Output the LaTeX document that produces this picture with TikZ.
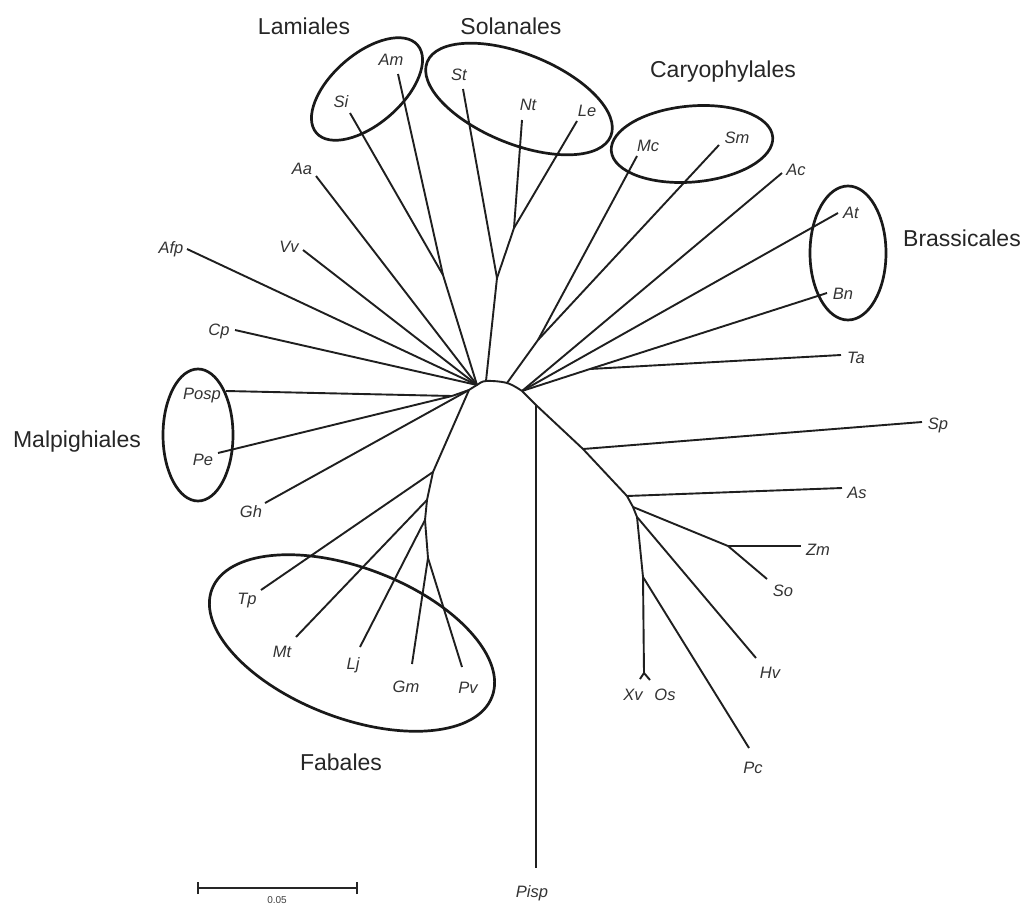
\documentclass[tikz,border=0pt]{standalone}
\usepackage{fontspec}
\setmainfont{Liberation Sans}
\begin{document}
\begin{tikzpicture}[x=1pt,y=-1pt,
  br/.style={line width=1.9pt, draw=black!88, line join=round},
  grp/.style={line width=2.7pt, draw=black!90},
  leaf/.style={font=\fontsize{16.5}{18}\selectfont\itshape, text=black!80, inner sep=0pt, anchor=base},
  clade/.style={font=\fontsize{23}{26}\selectfont, text=black!85, inner sep=0pt, anchor=base},
  sbar/.style={line width=2.2pt, draw=black!85}]
\useasboundingbox (0,0) rectangle (1026,905);
\fill[white] (0,0) rectangle (1026,905);

% backbone coordinates
\coordinate (cL) at (469,390);
\coordinate (cA) at (477,385);
\coordinate (cS) at (486,381);
\coordinate (cC) at (507,383);
\coordinate (cR) at (522,391);
\coordinate (nPisp) at (536,405);
\coordinate (nSp) at (583,449);
\coordinate (nAs) at (627,496);
\coordinate (nM) at (633,507);
\coordinate (nHv) at (637,517);
\coordinate (nPc) at (643,577);
\coordinate (nXO) at (644,673);
\coordinate (nTp) at (433,472);
\coordinate (nMt) at (427,500);
\coordinate (nLj) at (425,520);
\coordinate (nGP) at (428,558);
\coordinate (nPP) at (452,396);
\coordinate (nLam) at (443,275);
\coordinate (nSol) at (497,278);
\coordinate (nNL) at (514,228);
\coordinate (nCar) at (538,340);
\coordinate (nBT) at (590,369);
\coordinate (nZS) at (728,546);

% leaf ends
\coordinate (eAfp) at (187,249);
\coordinate (eCp) at (235,330);
\coordinate (eVv) at (303,250);
\coordinate (eAa) at (316,176);
\coordinate (eSi) at (350,113);
\coordinate (eAm) at (398,74);
\coordinate (eSt) at (463,89);
\coordinate (eNt) at (522,120);
\coordinate (eLe) at (577,121);
\coordinate (eMc) at (637,156);
\coordinate (eSm) at (719,145);
\coordinate (eAc) at (782,173);
\coordinate (eAt) at (838,213);
\coordinate (eBn) at (827,293);
\coordinate (eTa) at (841,355);
\coordinate (eSp) at (922,422);
\coordinate (eAs) at (842,488);
\coordinate (eZm) at (801,546);
\coordinate (eSo) at (767,579);
\coordinate (eHv) at (756,658);
\coordinate (ePc) at (749,748);
\coordinate (eXv) at (640,679);
\coordinate (eOs) at (650,680);
\coordinate (ePisp) at (536,868);
\coordinate (ePv) at (462,667);
\coordinate (eGm) at (412,664);
\coordinate (eLj) at (360,647);
\coordinate (eMt) at (296,637);
\coordinate (eTp) at (261,590);
\coordinate (eGh) at (265,503);
\coordinate (ePe) at (218,453);
\coordinate (ePosp) at (226,391);

% branches
\draw[br] plot[smooth, tension=0.6] coordinates {(cL) (cA) (cS) (cC) (cR)};
\draw[br] (cR) -- (nPisp) -- (nSp) -- (nAs) -- (nM) -- (nHv) -- (nPc) -- (nXO);
\draw[br] (cL) -- (nTp) -- (nMt) -- (nLj) -- (nGP);
\draw[br] (nTp) -- (eTp);
\draw[br] (nMt) -- (eMt);
\draw[br] (nLj) -- (eLj);
\draw[br] (nGP) -- (eGm);
\draw[br] (nGP) -- (ePv);
\draw[br] (cL) -- (eGh);
\draw[br] (cL) -- (nPP);
\draw[br] (nPP) -- (ePosp);
\draw[br] (nPP) -- (ePe);
\draw[br] (cA) -- (eCp);
\draw[br] (cA) -- (eAfp);
\draw[br] (cA) -- (eVv);
\draw[br] (cA) -- (eAa);
\draw[br] (cA) -- (nLam);
\draw[br] (nLam) -- (eSi);
\draw[br] (nLam) -- (eAm);
\draw[br] (cS) -- (nSol);
\draw[br] (nSol) -- (eSt);
\draw[br] (nSol) -- (nNL);
\draw[br] (nNL) -- (eNt);
\draw[br] (nNL) -- (eLe);
\draw[br] (cC) -- (nCar);
\draw[br] (nCar) -- (eMc);
\draw[br] (nCar) -- (eSm);
\draw[br] (cR) -- (eAc);
\draw[br] (cR) -- (eAt);
\draw[br] (cR) -- (nBT);
\draw[br] (nBT) -- (eBn);
\draw[br] (nBT) -- (eTa);
\draw[br] (nPisp) -- (ePisp);
\draw[br] (nSp) -- (eSp);
\draw[br] (nAs) -- (eAs);
\draw[br] (nM) -- (nZS);
\draw[br] (nZS) -- (eZm);
\draw[br] (nZS) -- (eSo);
\draw[br] (nHv) -- (eHv);
\draw[br] (nPc) -- (ePc);
\draw[br] (nXO) -- (eXv);
\draw[br] (nXO) -- (eOs);

% clade ellipses
\draw[grp, rotate around={41:(367,89)}] (367,89) ellipse [x radius=67, y radius=35];
\draw[grp, rotate around={-22:(519,99)}] (519,99) ellipse [x radius=99, y radius=45];
\draw[grp, rotate around={5:(692,144)}] (692,144) ellipse [x radius=81, y radius=38];
\draw[grp] (848,253) ellipse [x radius=38, y radius=67];
\draw[grp] (198,435) ellipse [x radius=35, y radius=66];
\draw[grp, rotate around={-21:(352,643)}] (352,643) ellipse [x radius=150, y radius=75];

% leaf labels
\node[leaf] (lAm) at (391,65) {Am};
\node[leaf] (lSi) at (341,107) {Si};
\node[leaf] (lSt) at (459,80) {St};
\node[leaf] (lNt) at (528,110) {Nt};
\node[leaf] (lLe) at (587,116) {Le};
\node[leaf] (lMc) at (648,151) {Mc};
\node[leaf] (lSm) at (737,143) {Sm};
\node[leaf] (lAc) at (796,175) {Ac};
\node[leaf] (lAt) at (851,218) {At};
\node[leaf] (lBn) at (843,299) {Bn};
\node[leaf] (lTa) at (856,363) {Ta};
\node[leaf] (lSp) at (938,429) {Sp};
\node[leaf] (lAs) at (857,498) {As};
\node[leaf] (lZm) at (818,555) {Zm};
\node[leaf] (lSo) at (783,596) {So};
\node[leaf] (lHv) at (770,678) {Hv};
\node[leaf] (lXv) at (633,700) {Xv};
\node[leaf] (lOs) at (665,700) {Os};
\node[leaf] (lPc) at (753,773) {Pc};
\node[leaf] (lPisp) at (532,897) {Pisp};
\node[leaf] (lPv) at (468,693) {Pv};
\node[leaf] (lGm) at (406,692) {Gm};
\node[leaf] (lLj) at (353,669) {Lj};
\node[leaf] (lMt) at (282,657) {Mt};
\node[leaf] (lTp) at (247,604) {Tp};
\node[leaf] (lGh) at (251,517) {Gh};
\node[leaf] (lPe) at (203,465) {Pe};
\node[leaf] (lPosp) at (202,399) {Posp};
\node[leaf] (lCp) at (219,335) {Cp};
\node[leaf] (lAfp) at (171,253) {Afp};
\node[leaf] (lVv) at (289,252) {Vv};
\node[leaf] (lAa) at (302,174) {Aa};

% clade labels
\node[clade] (tLam) at (304,34) {Lamiales};
\node[clade] (tSol) at (511,34) {Solanales};
\node[clade] (tCar) at (723,77) {Caryophylales};
\node[clade] (tBra) at (962,246) {Brassicales};
\node[clade] (tMal) at (77,447) {Malpighiales};
\node[clade] (tFab) at (341,770) {Fabales};

% scale bar
\coordinate (sb1) at (198,888);
\coordinate (sb2) at (357,888);
\draw[sbar] (sb1) -- (sb2);
\draw[sbar] ([yshift=-6pt]sb1) -- ([yshift=6pt]sb1);
\draw[sbar] ([yshift=-6pt]sb2) -- ([yshift=6pt]sb2);
\node[font=\fontsize{10}{11}\selectfont, text=black!75, inner sep=0pt, anchor=base] (sbl) at (277,903) {0.05};
\end{tikzpicture}
\end{document}
